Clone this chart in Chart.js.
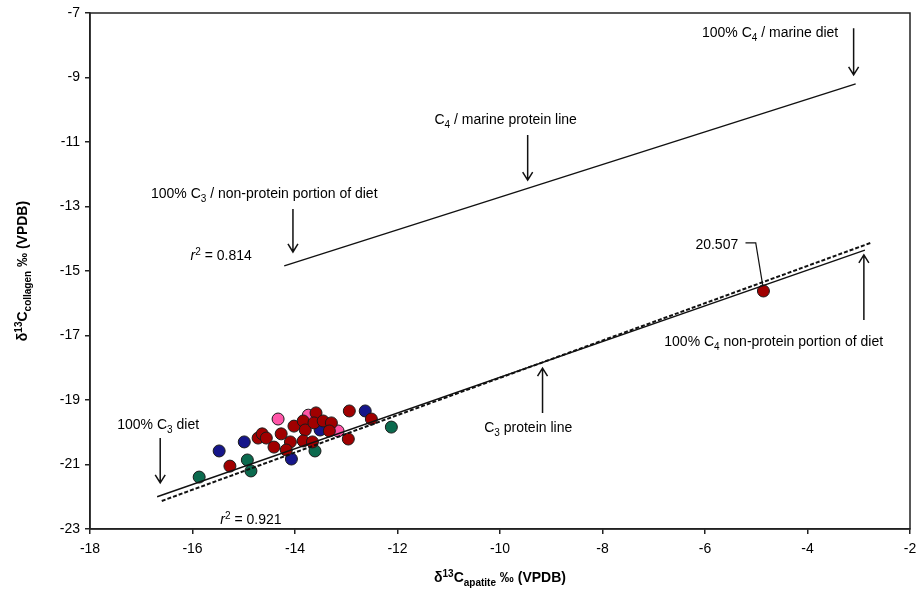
<!DOCTYPE html>
<html>
<head>
<meta charset="utf-8">
<script src="https://cdn.jsdelivr.net/npm/chart.js@4/dist/chart.umd.min.js"></script>
<style>
    html, body { margin: 0; padding: 0; background: #fff; }
    #wrap { width: 919px; height: 594px; }
</style>
</head>
<body>
<div id="wrap"><canvas id="chart" width="919" height="594"></canvas></div>
<script>
// scatter groups (d13C apatite, d13C collagen)
const redX = [-15.27, -14.72, -14.64, -14.56, -14.41, -14.27, -14.09, -14.17, -14.02, -13.84, -13.80,
              -13.59, -13.63, -13.84, -13.66, -13.45, -13.29, -13.33, -12.96, -12.94, -12.51, -4.86];
const redY = [-21.05, -20.18, -20.05, -20.18, -20.46, -20.05, -20.30, -20.55, -19.81, -19.65, -19.93,
              -19.40, -19.71, -20.27, -20.30, -19.65, -19.71, -19.96, -20.21, -19.34, -19.59, -15.62];
const blueX = [-15.48, -14.99, -14.07, -13.51, -12.63];
const blueY = [-20.58, -20.30, -20.83, -19.93, -19.34];
const greenX = [-15.87, -14.93, -14.86, -13.61, -12.12];
const greenY = [-21.39, -20.86, -21.20, -20.58, -19.84];
const pinkX = [-14.33, -13.74, -13.16];
const pinkY = [-19.59, -19.47, -19.96];

// reference lines
const c4LineX = [-14.21, -3.06];
const c4LineY = [-14.84, -9.20];
const c3LineX = [-16.69, -2.88];
const c3LineY = [-22.00, -14.35];
const fitX = [-16.60, -2.77];
const fitY = [-22.13, -14.13];

const xTicks = [-18, -16, -14, -12, -10, -8, -6, -4, -2];
const yTicks = [-23, -21, -19, -17, -15, -13, -11, -9, -7];

// labels: text parts ([text, style]) placed at data coords
const labels = [
    {at: [-4.73, -7.59], parts: [['100% C', ''], ['4', 'sub'], [' / marine diet', '']]},
    {at: [-9.89, -10.29], parts: [['C', ''], ['4', 'sub'], [' / marine protein line', '']]},
    {at: [-14.60, -12.58], parts: [['100% C', ''], ['3', 'sub'], [' / non-protein portion of diet', '']]},
    {at: [-15.44, -14.50], parts: [['r', 'i'], ['2', 'sup'], [' = 0.814', '']]},
    {at: [-5.77, -14.16], parts: [['20.507', '']]},
    {at: [-4.66, -17.17], parts: [['100% C', ''], ['4', 'sub'], [' non-protein portion of diet', '']]},
    {at: [-9.45, -19.84], parts: [['C', ''], ['3', 'sub'], [' protein line', '']]},
    {at: [-16.67, -19.74], parts: [['100% C', ''], ['3', 'sub'], [' diet', '']]},
    {at: [-14.86, -22.69], parts: [['r', 'i'], ['2', 'sup'], [' = 0.921', '']]}
];
// arrows: from -> to (head at "to")
const arrows = [
    [[-3.10, -7.47], [-3.10, -8.92]],
    [[-9.46, -10.78], [-9.46, -12.18]],
    [[-14.04, -13.08], [-14.04, -14.41]],
    [[-16.63, -20.18], [-16.63, -21.57]],
    [[-9.17, -19.40], [-9.17, -18.01]],
    [[-2.90, -16.52], [-2.90, -14.50]]
];
const leaderX = [-5.21, -5.01, -4.875];
const leaderY = [-14.13, -14.13, -15.43];

const FONT = '"Liberation Sans", Arial, sans-serif';

function points(xs, ys) {
    return xs.map((x, i) => ({x: x, y: ys[i]}));
}

function scatterSet(xs, ys, color) {
    return {type: 'scatter', data: points(xs, ys), backgroundColor: color, borderColor: '#1a1a1a',
            borderWidth: 1, pointRadius: 6, order: 2};
}

function lineSet(xs, ys, dash, width) {
    return {type: 'line', data: points(xs, ys), borderColor: '#111', borderWidth: width,
            borderDash: dash, pointRadius: 0, fill: false, tension: 0, order: 1};
}

function partFont(style, size, bold) {
    const s = (style === 'sub' || style === 'sup') ? Math.round(size * 0.68) : size;
    return (style === 'i' ? 'italic ' : '') + (bold ? 'bold ' : '') + s + 'px ' + FONT;
}

function drawRich(ctx, parts, cx, cy, size, bold) {
    let total = 0;
    parts.forEach(p => {
        ctx.font = partFont(p[1], size, bold);
        total += ctx.measureText(p[0]).width;
    });
    let x = cx - total / 2;
    ctx.textAlign = 'left';
    ctx.textBaseline = 'alphabetic';
    const base = cy + size * 0.36;
    parts.forEach(p => {
        ctx.font = partFont(p[1], size, bold);
        let y = base;
        if (p[1] === 'sub') y += size * 0.28;
        if (p[1] === 'sup') y -= size * 0.38;
        ctx.fillText(p[0], x, y);
        x += ctx.measureText(p[0]).width;
    });
}

const decorations = {
    id: 'decorations',
    afterDraw(chart) {
        const ctx = chart.ctx;
        const xs = chart.scales.x;
        const ys = chart.scales.y;
        const area = chart.chartArea;
        const px = v => xs.getPixelForValue(v);
        const py = v => ys.getPixelForValue(v);
        ctx.save();
        // box
        ctx.strokeStyle = '#222';
        ctx.lineWidth = 1.5;
        ctx.strokeRect(area.left, area.top, area.right - area.left, area.bottom - area.top);
        // arrows
        ctx.lineWidth = 1.5;
        ctx.strokeStyle = '#111';
        arrows.forEach(a => {
            const x0 = px(a[0][0]), y0 = py(a[0][1]), x1 = px(a[1][0]), y1 = py(a[1][1]);
            const dir = y1 > y0 ? 1 : -1;
            ctx.beginPath();
            ctx.moveTo(x0, y0);
            ctx.lineTo(x1, y1);
            ctx.moveTo(x1 - 5, y1 - dir * 8);
            ctx.lineTo(x1, y1);
            ctx.lineTo(x1 + 5, y1 - dir * 8);
            ctx.stroke();
        });
        // leader for outlier label
        ctx.lineWidth = 1.2;
        ctx.beginPath();
        leaderX.forEach((v, i) => i ? ctx.lineTo(px(v), py(leaderY[i])) : ctx.moveTo(px(v), py(leaderY[i])));
        ctx.stroke();
        // labels
        ctx.fillStyle = '#000';
        labels.forEach(l => drawRich(ctx, l.parts, px(l.at[0]), py(l.at[1]), 14, false));
        // axis titles
        drawRich(ctx, [['δ', ''], ['13', 'sup'], ['C', ''], ['apatite', 'sub'], [' ‰ (VPDB)', '']],
                 (area.left + area.right) / 2, 577, 14, true);
        ctx.translate(22, (area.top + area.bottom) / 2);
        ctx.rotate(-Math.PI / 2);
        drawRich(ctx, [['δ', ''], ['13', 'sup'], ['C', ''], ['collagen', 'sub'], [' ‰ (VPDB)', '']],
                 0, 0, 14, true);
        ctx.restore();
    }
};

const tickFont = {family: FONT, size: 14};

new Chart(document.getElementById('chart'), {
    data: {
        datasets: [
            lineSet(c4LineX, c4LineY, [], 1.4),
            lineSet(c3LineX, c3LineY, [], 1.4),
            lineSet(fitX, fitY, [4, 2], 2),
            scatterSet(redX, redY, '#a00000'),
            scatterSet(blueX, blueY, '#16168a'),
            scatterSet(greenX, greenY, '#0b6a4e'),
            scatterSet(pinkX, pinkY, '#ff55a8')
        ]
    },
    options: {
        responsive: false,
        animation: false,
        layout: {padding: {left: 0, right: 9, top: 13, bottom: 0}},
        plugins: {legend: {display: false}, tooltip: {enabled: false}},
        scales: {
            x: {
                type: 'linear', min: -18, max: -2,
                afterBuildTicks: s => { s.ticks = xTicks.map(v => ({value: v})); },
                afterFit: s => { s.height = 65; s.paddingRight = 0; s.paddingLeft = 0; },
                ticks: {font: tickFont, color: '#000', padding: 7, maxRotation: 0},
                grid: {drawOnChartArea: false, drawTicks: true, tickLength: 5, color: '#222', lineWidth: 1.5},
                border: {display: true, color: '#222', width: 1.5}
            },
            y: {
                type: 'linear', min: -23, max: -7,
                afterBuildTicks: s => { s.ticks = yTicks.map(v => ({value: v})); },
                afterFit: s => { s.width = 90; s.paddingTop = 0; s.paddingBottom = 0; },
                ticks: {font: tickFont, color: '#000', padding: 5},
                grid: {drawOnChartArea: false, drawTicks: true, tickLength: 5, color: '#222', lineWidth: 1.5},
                border: {display: true, color: '#222', width: 1.5}
            }
        }
    },
    plugins: [decorations]
});
</script>
</body>
</html>
